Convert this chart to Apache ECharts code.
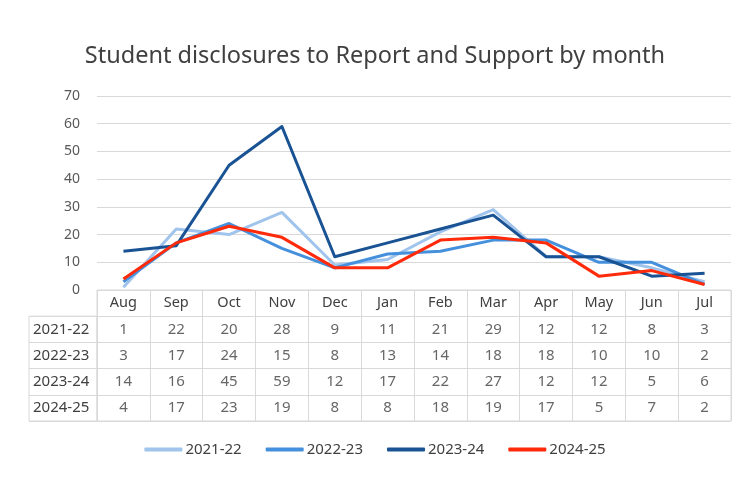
<!DOCTYPE html>
<html><head><meta charset="utf-8">
<script src="https://cdn.jsdelivr.net/npm/echarts@6/dist/echarts.min.js"></script>
<style>html,body{margin:0;padding:0;background:#fff}#c{width:750px;height:500px}</style>
</head><body><div id="c"></div>
<script>
const months = ['Aug','Sep','Oct','Nov','Dec','Jan','Feb','Mar','Apr','May','Jun','Jul'];
const seriesNames = ['2021-22','2022-23','2023-24','2024-25'];
const s2021 = [1,22,20,28,9,11,21,29,12,12,8,3];
const s2022 = [3,17,24,15,8,13,14,18,18,10,10,2];
const s2023 = [14,16,45,59,12,17,22,27,12,12,5,6];
const s2024 = [4,17,23,19,8,8,18,19,17,5,7,2];
const yTicks = [0,10,20,30,40,50,60,70];
const colors = ['#A0C4EC','#4590DC','#1A5394','#FF2A0A'];

const allSeries = [s2021, s2022, s2023, s2024];
const FONT = 'Noto Sans';
const TXT = '#404040';
const BORDER = '#d9d9d9';

const tableData = [];
allSeries.forEach((arr, si) => arr.forEach((v, mi) => tableData.push([mi, seriesNames[si], v])));

const chart = echarts.init(document.getElementById('c'), null, {renderer:'canvas'});
chart.setOption({
  animation: false,
  backgroundColor: '#fff',
  textStyle: {fontFamily: FONT},
  title: {
    text: 'Student disclosures to Report and Support by month',
    left: 'center', top: 39,
    textStyle: {fontFamily: FONT, fontSize: 23.5, fontWeight: 'normal', color: TXT}
  },
  legend: {
    data: seriesNames, left: 'center', top: 437,
    icon: 'roundRect', itemWidth: 38, itemHeight: 4, itemGap: 24,
    textStyle: {fontFamily: FONT, fontSize: 15, color: TXT, padding: [0,0,0,-2]}
  },
  grid: [
    {left: 97, right: 19, top: 96, height: 194},
    {left: 97, right: 19, top: 290, height: 131, show: true, borderColor: BORDER, borderWidth: 1},
    {left: 29, width: 68, top: 290 + 131/5, height: 131*4/5, show: true, borderColor: BORDER, borderWidth: 1}
  ],
  xAxis: [
    {gridIndex: 0, type: 'category', data: months, boundaryGap: true,
     axisLine: {show: true, lineStyle: {color: BORDER}}, axisTick: {show: false},
     axisLabel: {margin: 5, fontSize: 14.5, color: TXT, fontFamily: FONT}},
    {gridIndex: 1, type: 'category', data: months, boundaryGap: true,
     axisLine: {show: false}, axisTick: {show: false}, axisLabel: {show: false},
     splitLine: {show: true, lineStyle: {color: BORDER}}},
    {gridIndex: 2, type: 'value', show: false}
  ],
  yAxis: [
    {gridIndex: 0, type: 'value', min: yTicks[0], max: yTicks[yTicks.length-1], interval: 10,
     axisLine: {show: false}, axisTick: {show: false},
     axisLabel: {margin: 17, fontSize: 14, color: '#595959', fontFamily: FONT},
     splitLine: {lineStyle: {color: BORDER}}},
    {gridIndex: 1, type: 'category', inverse: true, data: ['header'].concat(seriesNames),
     axisLine: {show: false}, axisTick: {show: false}, axisLabel: {show: false},
     splitLine: {show: true, lineStyle: {color: BORDER}}},
    {gridIndex: 2, type: 'category', inverse: true, data: seriesNames,
     axisLine: {show: false}, axisTick: {show: false},
     axisLabel: {inside: true, margin: 4, fontSize: 15, color: TXT, fontFamily: FONT, align: 'left'},
     splitLine: {show: true, lineStyle: {color: BORDER}}}
  ],
  series: allSeries.map((arr, i) => ({
    name: seriesNames[i], type: 'line', data: arr, xAxisIndex: 0, yAxisIndex: 0,
    showSymbol: false, symbol: 'none', smooth: false,
    lineStyle: {width: 3, color: colors[i], join: 'round'}, itemStyle: {color: colors[i]}, z: 2 + i
  })).concat([{
    name: 'table', type: 'scatter', xAxisIndex: 1, yAxisIndex: 1,
    data: tableData, symbolSize: 1, itemStyle: {color: 'rgba(0,0,0,0)'},
    label: {show: true, position: 'inside', formatter: p => String(p.value[2]),
            fontSize: 15, color: TXT, fontFamily: FONT}
  }])
});
</script></body></html>
